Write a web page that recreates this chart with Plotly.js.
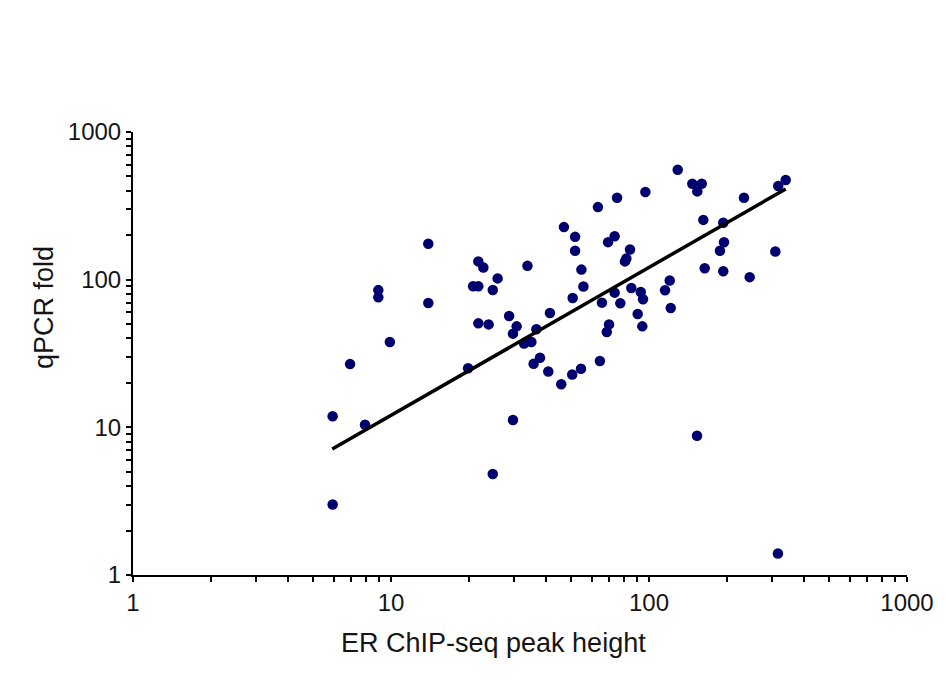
<!DOCTYPE html>
<html>
<head>
<meta charset="utf-8">
<script src="https://cdn.plot.ly/plotly-3.0.1.min.js"></script>
<style>html,body{margin:0;padding:0;background:#fff;}#chart{width:946px;height:684px;}</style>
</head>
<body>
<div id="chart"></div>
<script>
// ER ChIP-seq peak height (x) vs qPCR fold (y)
const peakHeight = [5.94, 5.94, 6.94, 7.93, 8.93, 8.93, 9.9, 13.95, 13.95, 19.9,
  20.8, 21.8, 21.8, 22.8, 21.8, 23.9, 24.8, 25.9, 24.8, 28.7,
  30.7, 29.7, 29.7, 33.8, 32.8, 35.0, 36.6, 37.8, 35.7, 40.7,
  41.3, 45.7, 46.8, 50.4, 50.6, 51.7, 51.7, 54.5, 54.7, 55.7,
  63.4, 64.5, 65.7, 68.6, 70.0, 69.4, 73.6, 73.6, 75.2, 77.4,
  80.7, 81.7, 84.4, 85.4, 90.4, 92.9, 94.8, 94.2, 96.8, 115.4,
  120.3, 121.4, 129.2, 147.2, 160.1, 153.9, 153.5, 162.4, 164.4, 188.4,
  195.3, 194, 194, 233.4, 245.6, 308.8, 316, 316.9, 338.7];
const qpcrFold = [11.9, 3.0, 26.8, 10.4, 85, 75.9, 37.8, 175, 69.5, 25.1,
  90.2, 90.2, 133, 121, 50.6, 49.8, 85.1, 102, 4.83, 56.7,
  48.3, 43.1, 11.2, 124, 36.9, 37.8, 46.2, 29.6, 26.9, 23.9,
  59.4, 19.6, 227, 22.8, 75.1, 195, 157, 24.9, 117, 89.8,
  310, 28.1, 69.9, 44.2, 49.8, 179.5, 197, 81.7, 359, 69.2,
  133, 139, 160, 87.8, 58.5, 82.5, 73.6, 48.3, 392, 84.8,
  98.6, 64.3, 555, 446, 446, 396, 8.78, 254, 119.5, 157,
  179, 243, 114, 359, 104, 155, 1.40, 431, 473];
// regression line end points
const fitX = [5.92, 338.7];
const fitY = [7.13, 411];
// tick values and labels
const tickVals = [1,2,3,4,5,6,7,8,9,10,20,30,40,50,60,70,80,90,100,200,300,400,500,600,700,800,900,1000];
const tickText = tickVals.map(v => [1,10,100,1000].includes(v) ? String(v) : '');
const xTitle = 'ER ChIP-seq peak height';
const yTitle = 'qPCR fold';

const font = 'Liberation Sans, Arial, sans-serif';
const axisCommon = {
  type: 'log', range: [0, 3], tickmode: 'array', tickvals: tickVals, ticktext: tickText,
  ticks: 'outside', ticklen: 5, tickwidth: 2, tickcolor: '#000',
  showline: true, linecolor: '#000', linewidth: 2, showgrid: false, zeroline: false,
  tickfont: {family: font, size: 24, color: '#151515'}, automargin: false
};

Plotly.newPlot('chart', [
  {x: peakHeight, y: qpcrFold, mode: 'markers', type: 'scatter',
   marker: {color: '#00006e', size: 10.5}, cliponaxis: false},
  {x: fitX, y: fitY, mode: 'lines', type: 'scatter', line: {color: '#000', width: 3.5}}
], {
  width: 946, height: 684,
  margin: {l: 133, r: 39, t: 132, b: 109},
  paper_bgcolor: '#fff', plot_bgcolor: '#fff',
  showlegend: false,
  xaxis: Object.assign({}, axisCommon),
  yaxis: Object.assign({}, axisCommon),
  annotations: [
    {text: xTitle, xref: 'paper', yref: 'paper', x: 0.466, y: -0.153, xanchor: 'center', yanchor: 'middle',
     showarrow: false, font: {family: font, size: 27, color: '#151515'}},
    {text: yTitle, xref: 'paper', yref: 'paper', x: -0.115, y: 0.605, xanchor: 'center', yanchor: 'middle',
     textangle: -90, showarrow: false, font: {family: font, size: 27, color: '#151515'}}
  ]
}, {displayModeBar: false, staticPlot: true});
</script>
</body>
</html>
